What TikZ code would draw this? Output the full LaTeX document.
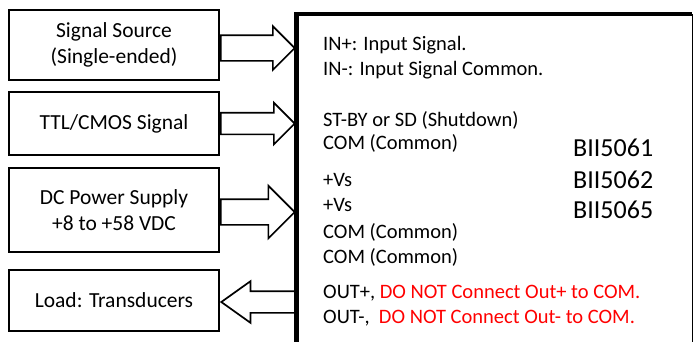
\documentclass[tikz,border=0pt]{standalone}
\usepackage{fontspec}
\setmainfont{Carlito}
\usetikzlibrary{shapes.arrows, calc}

\begin{document}
\begin{tikzpicture}[
		x=1pt, y=-1pt,
		inbox/.style={draw, line width=1.7pt, minimum width=210pt, align=center, inner sep=0pt,
			font=\fontsize{21.5}{26}\selectfont},
		hollow arrow/.style={single arrow, draw, line width=1.7pt, inner xsep=0pt, single arrow tip angle=90},
		pin text/.style={anchor=base west, inner sep=0pt, font=\fontsize{20.5}{25}\selectfont},
		model/.style={anchor=base west, inner sep=0pt, font=\fontsize{26}{30}\selectfont}
		]
		\useasboundingbox (0,0) rectangle (693,341);
		
		% Input / output boxes on the left
		\node[inbox, minimum height=70pt] (source) at (114,45) {Signal Source\\(Single-ended)};
		\node[inbox, minimum height=63pt] (ttl) at (114,123.5) {TTL/CMOS Signal};
		\node[inbox, minimum height=84pt] (power) at (114,210) {DC Power Supply\\+8 to +58 VDC};
		\node[inbox, minimum height=61pt] (load) at (114,300.5) {Load: Transducers};
		
		% Module outline (open at the bottom)
		\node[inner sep=0pt, minimum width=395.5pt, minimum height=330pt, anchor=north west] (module) at (296.5,14) {};
		\draw[line width=4.5pt] (module.south west) -- (module.north west) -- (module.north east);
		\draw[line width=1.5pt] (module.north east) -- (module.south east);
		
		% Hollow arrows into the module
		\foreach \src/\dy/\half/\ext in {source/3/12/9, ttl/0/10/10, power/2/12/13.5} {
			\node[hollow arrow, anchor=tail, minimum height=74pt, inner ysep=\half pt,
				single arrow head extend=\ext pt] (\src arrow) at ($(\src.east)+(0,\dy)$) {};
		}
		% Hollow arrow out to the load
		\node[hollow arrow, shape border rotate=180, anchor=tip, minimum height=76pt, inner ysep=10pt,
			single arrow head extend=10pt, single arrow tip angle=71] (load arrow) at ($(load.east)+(0,1.5)$) {};
		
		% Pin list
		\foreach \y/\n/\txt in {50.5/inp/{IN+: Input Signal.},
			75.5/inm/{IN-: Input Signal Common.},
			126.5/stby/{ST-BY or SD (Shutdown)},
			149.5/coma/{COM (Common)},
			186.5/vsa/{+Vs},
			211.5/vsb/{+Vs},
			238.5/comb/{COM (Common)},
			263.5/comc/{COM (Common)},
			298.5/outp/{OUT+, \textcolor{red}{DO NOT Connect Out+ to COM.}},
			323.5/outm/{OUT-,\ \ \textcolor{red}{DO NOT Connect Out- to COM.}}} {
			\node[pin text] (\n) at (323,\y) {\txt};
		}
		
		% Model numbers
		\foreach \y/\n in {156.5/5061, 188.5/5062, 218.5/5065} {
			\node[model] (bii\n) at (573,\y) {BII\n};
		}
		
	\end{tikzpicture}
\end{document}
